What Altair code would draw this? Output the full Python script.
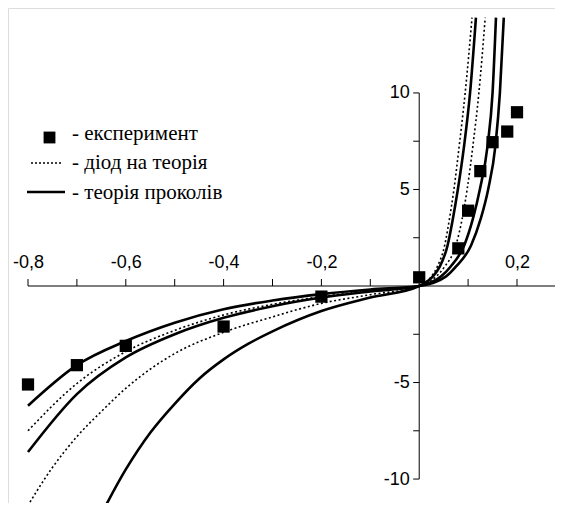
import altair as alt
import pandas as pd

# ---------------- data ----------------
exp_x = [-0.8, -0.7, -0.6, -0.4, -0.2, 0.0, 0.08, 0.10, 0.125, 0.15, 0.18, 0.20]
exp_y = [-5.1, -4.1, -3.1, -2.1, -0.55, 0.45, 1.95, 3.9, 5.95, 7.45, 8.0, 9.0]

# solid curves ("теорія проколів")
solA_x = [-0.8, -0.7, -0.6, -0.5, -0.4, -0.3, -0.2, -0.1, 0.0,
          0.055, 0.075, 0.106, 0.126, 0.141, 0.156, 0.165, 0.173]
solA_y = [-6.2, -4.1, -2.85, -1.9, -1.2, -0.75, -0.42, -0.18, 0.0,
          0.5, 1.0, 2.1, 3.5, 5.0, 7.3, 10.0, 13.9]
solC_x = [-0.8, -0.7, -0.6, -0.5, -0.4, -0.3, -0.2, -0.1, 0.0,
          0.045, 0.064, 0.092, 0.110, 0.124, 0.140, 0.150, 0.157]
solC_y = [-8.6, -5.6, -3.7, -2.5, -1.65, -1.05, -0.6, -0.28, 0.0,
          0.5, 1.0, 2.1, 3.5, 5.0, 7.3, 10.0, 13.9]
solE_x = [-0.66, -0.6, -0.55, -0.5, -0.45, -0.4, -0.35, -0.3, -0.2, -0.1, 0.0,
          0.028, 0.042, 0.058, 0.069, 0.079, 0.092, 0.104, 0.116]
solE_y = [-12.3, -9.5, -7.6, -6.1, -4.8, -3.8, -3.0, -2.35, -1.3, -0.6, 0.0,
          0.5, 1.0, 2.1, 3.5, 5.0, 7.3, 10.0, 13.9]

# dotted curves ("діодна теорія")
dotB_x = [-0.8, -0.7, -0.6, -0.5, -0.4, -0.3, -0.2, -0.1, 0.0,
          0.035, 0.052, 0.075, 0.088, 0.098, 0.110, 0.122, 0.135]
dotB_y = [-7.5, -5.05, -3.4, -2.3, -1.5, -0.95, -0.55, -0.25, 0.0,
          0.5, 1.0, 2.1, 3.5, 5.0, 7.3, 10.0, 13.9]
dotD_x = [-0.815, -0.75, -0.7, -0.65, -0.6, -0.5, -0.4, -0.3, -0.2, -0.1, 0.0,
          0.025, 0.037, 0.052, 0.062, 0.071, 0.082, 0.094, 0.108]
dotD_y = [-12.0, -9.4, -7.8, -6.5, -5.3, -3.5, -2.4, -1.6, -0.9, -0.45, 0.0,
          0.5, 1.0, 2.1, 3.5, 5.0, 7.3, 10.0, 13.9]

x_ticks = [-0.8, -0.7, -0.6, -0.5, -0.4, -0.3, -0.2, -0.1, 0.1, 0.2]
y_ticks = [-10, -7.5, -5, -2.5, 2.5, 5, 7.5, 10]

legend_labels = ["- експеримент", "- діод на теорія", "- теорія проколів"]

# ---------------- layout ----------------
W, H = 547, 495
xmin, xmax = -0.8409, 0.2777
ymin, ymax = -11.24, 14.40

rows = []
for name, kind, xs, ys in [("A", "solid", solA_x, solA_y), ("C", "solid", solC_x, solC_y),
                           ("E", "solid", solE_x, solE_y), ("B", "dotted", dotB_x, dotB_y),
                           ("D", "dotted", dotD_x, dotD_y)]:
    for xv, yv in zip(xs, ys):
        rows.append({"curve": name, "kind": kind, "x": xv, "y": yv})
curves = pd.DataFrame(rows)
expdf = pd.DataFrame({"x": exp_x, "y": exp_y})

xscale = alt.Scale(domain=[xmin, xmax], nice=False, zero=False)
yscale = alt.Scale(domain=[ymin, ymax], nice=False, zero=False)

# pixel position of the zero lines inside the plot area (axes cross at the origin)
ypos0 = H * (ymax - 0) / (ymax - ymin)
xpos0 = W * (0 - xmin) / (xmax - xmin)

XT, YT = 7, 6  # tick lengths in pixels
xt_len = XT * (ymax - ymin) / H   # same lengths in data units
yt_len = YT * (xmax - xmin) / W

xaxis = alt.Axis(
    orient="top", offset=-ypos0, domain=False, grid=False, values=x_ticks,
    ticks=False,
    labelExpr="abs(round(datum.value*10)) % 2 == 0 ? (datum.value < 0 ? '-' : '') + replace(format(abs(datum.value), '.1f'), '.', ',') : ''",
    labelFont="Liberation Sans", labelFontSize=18, labelColor="black",
    labelPadding=8 + XT, labelFlush=False, labelOverlap=False, title="",
)
yaxis = alt.Axis(
    orient="left", offset=-xpos0, domain=False, grid=False, values=y_ticks,
    ticks=False,
    labelExpr="datum.value % 5 == 0 ? (datum.value < 0 ? '-' : '') + format(abs(datum.value), 'd') : ''",
    labelFont="Liberation Sans", labelFontSize=18, labelColor="black",
    labelPadding=4 + YT, labelFlush=False, labelOverlap=False, title="",
)

X = alt.X("x:Q", scale=xscale, axis=xaxis)
Y = alt.Y("y:Q", scale=yscale, axis=yaxis)

solid = alt.Chart(curves).transform_filter(alt.datum.kind == "solid").mark_line(
    color="black", strokeWidth=2.6, interpolate="monotone", clip=True
).encode(x=X, y=Y, detail="curve:N", order="x:Q")

dotted = alt.Chart(curves).transform_filter(alt.datum.kind == "dotted").mark_line(
    color="black", strokeWidth=1.6, strokeDash=[2, 2.5], interpolate="monotone", clip=True
).encode(x=X, y=Y, detail="curve:N", order="x:Q")

pts = alt.Chart(expdf).mark_point(
    shape="square", filled=True, color="black", size=150, opacity=1, clip=True
).encode(x=X, y=Y)

# axis lines
xline = alt.Chart(pd.DataFrame({"x": [x_ticks[0]], "x2": [xmax], "y": [0]})).mark_rule(
    color="black", strokeWidth=1
).encode(x=X, x2="x2:Q", y=Y)
yline = alt.Chart(pd.DataFrame({"x": [0], "y": [y_ticks[0]], "y2": [y_ticks[-1]]})).mark_rule(
    color="black", strokeWidth=1
).encode(x=X, y=Y, y2="y2:Q")

# tick marks (x ticks point up, y ticks point left)
xt = alt.Chart(pd.DataFrame({"x": x_ticks, "y": [0] * len(x_ticks),
                             "y2": [xt_len] * len(x_ticks)})).mark_rule(
    color="black", strokeWidth=1
).encode(x=X, y=Y, y2="y2:Q")
yt = alt.Chart(pd.DataFrame({"x": [-yt_len] * len(y_ticks), "x2": [0] * len(y_ticks),
                             "y": y_ticks})).mark_rule(
    color="black", strokeWidth=1
).encode(x=X, x2="x2:Q", y=Y)

# legend (drawn by hand)
leg_sq = alt.Chart(pd.DataFrame({"k": [0]})).mark_point(
    shape="square", filled=True, color="black", size=140, opacity=1
).encode(x=alt.value(41.5), y=alt.value(129.5))
leg_dot = alt.Chart(pd.DataFrame({"k": [0]})).mark_rule(
    color="black", strokeWidth=1.5, strokeDash=[2, 2]
).encode(x=alt.value(23), x2=alt.value(55), y=alt.value(155))
leg_sol = alt.Chart(pd.DataFrame({"k": [0]})).mark_rule(
    color="black", strokeWidth=2.6
).encode(x=alt.value(19), x2=alt.value(57), y=alt.value(184))

leg_text_y = [132, 161, 191]
leg_texts = [
    alt.Chart(pd.DataFrame({"t": [lbl]})).mark_text(
        align="left", baseline="alphabetic", font="Liberation Serif", fontSize=21, color="black"
    ).encode(x=alt.value(64), y=alt.value(ty), text="t:N")
    for lbl, ty in zip(legend_labels, leg_text_y)
]

chart = alt.layer(
    xline, yline, xt, yt, dotted, solid, pts, leg_sq, leg_dot, leg_sol, *leg_texts
).properties(
    width=W, height=H, autosize=alt.AutoSizeParams(type="none"), padding=0
).configure_view(strokeWidth=0).configure_axis(domain=False, grid=False).configure(background="white")

chart.save("out.html", embed_options={"renderer": "svg", "actions": False})
